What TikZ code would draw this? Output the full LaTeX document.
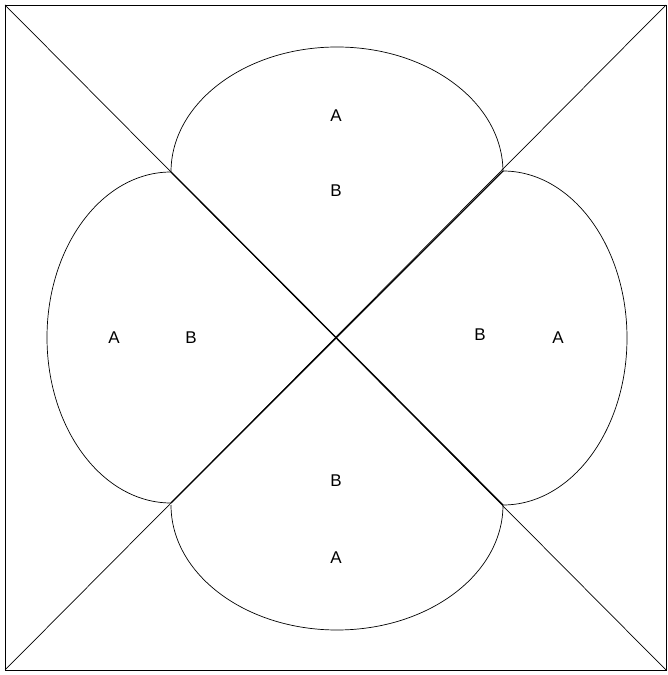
\documentclass[tikz,border=0pt]{standalone}
\usepackage{fontspec}
\setmainfont{Liberation Sans}
\begin{document}
\begin{tikzpicture}[
    x=1pt, y=1pt,
    line/.style={line width=0.7pt},
    seam/.style={line width=1.3pt},
    lbl/.style={font=\fontsize{17}{20}\selectfont, inner sep=0pt}
]
    \useasboundingbox (0,0) rectangle (667,675);
    \coordinate (SW) at (5,5);
    \coordinate (NE) at (666,670);
    \coordinate (NW) at (5,670);
    \coordinate (SE) at (666,5);
    \coordinate (jNW) at (171,503);
    \coordinate (jNE) at (503,504);
    \coordinate (jSW) at (171,172);
    \coordinate (jSE) at (503,170);

    \draw[line] (SW) rectangle (NE);
    \draw[line] (NW) -- (SE);
    \draw[line] (SW) -- (NE);
    \draw[seam] (jNW) -- (jSE);
    \draw[seam] (jSW) -- (jNE);

    % lobes
    \draw[line] (jNW) arc[start angle=180, end angle=0, x radius=166, y radius=125];
    \draw[line] (jNE) arc[start angle=90, end angle=-90, x radius=124, y radius=167];
    \draw[line] (jSE) arc[start angle=0, end angle=-180, x radius=166, y radius=125];
    \draw[line] (jSW) arc[start angle=-90, end angle=-270, x radius=124, y radius=165.5];

    \node[lbl] (topA) at (336,559) {A};
    \node[lbl] (topB) at (336,484) {B};
    \node[lbl] (leftA) at (114,337) {A};
    \node[lbl] (leftB) at (191,337) {B};
    \node[lbl] (rightB) at (480,340) {B};
    \node[lbl] (rightA) at (558,337) {A};
    \node[lbl] (botB) at (336,194) {B};
    \node[lbl] (botA) at (336,117) {A};
\end{tikzpicture}
\end{document}
